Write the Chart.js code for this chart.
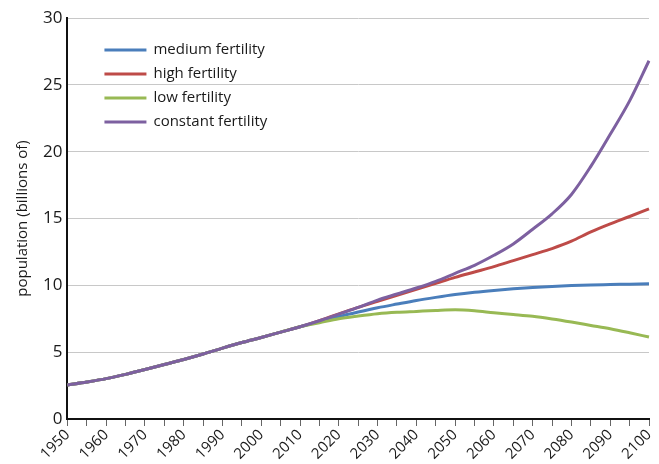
<!DOCTYPE html>
<html>
<head>
<meta charset="utf-8">
<script src="https://cdn.jsdelivr.net/npm/chart.js@4/dist/chart.umd.min.js"></script>
<style>
  html, body { margin: 0; padding: 0; background: #fff; }
  #box { width: 659px; height: 464px; position: relative; }
</style>
</head>
<body>
<div id="box"><canvas id="grafico"></canvas></div>
<script>
// anos (a cada 5 anos)
const anos = [1950, 1955, 1960, 1965, 1970, 1975, 1980, 1985, 1990, 1995, 2000, 2005, 2010,
  2015, 2020, 2025, 2030, 2035, 2040, 2045, 2050, 2055, 2060, 2065, 2070, 2075, 2080, 2085, 2090, 2095, 2100];

// historico comum 1950-2010
const historico = [2.55, 2.77, 3.02, 3.34, 3.7, 4.08, 4.45, 4.86, 5.3, 5.72, 6.1, 6.5, 6.9];

const media = historico.concat([7.28, 7.66, 8.0, 8.32, 8.6, 8.87, 9.1, 9.31, 9.48, 9.62, 9.74, 9.84, 9.92, 9.98, 10.03, 10.06, 10.09, 10.12]);
const alta = historico.concat([7.36, 7.87, 8.35, 8.8, 9.25, 9.7, 10.15, 10.6, 11.0, 11.4, 11.85, 12.3, 12.75, 13.3, 14.0, 14.6, 15.15, 15.72]);
const baixa = historico.concat([7.2, 7.5, 7.7, 7.87, 7.98, 8.05, 8.12, 8.17, 8.1, 7.95, 7.82, 7.68, 7.48, 7.25, 7.0, 6.75, 6.45, 6.13]);
const constante = historico.concat([7.35, 7.85, 8.35, 8.9, 9.35, 9.8, 10.3, 10.9, 11.5, 12.25, 13.1, 14.2, 15.35, 16.8, 18.9, 21.3, 23.8, 26.8]);

const nomes = ['medium fertility', 'high fertility', 'low fertility', 'constant fertility'];
const cores = ['#4a7ebb', '#be4b48', '#98b954', '#7d60a0'];
const ticksY = [0, 5, 10, 15, 20, 25, 30];

const fonte = '"Open Sans", "DejaVu Sans", sans-serif';

// legenda desenhada dentro da area do grafico
const legendaDentro = {
  id: 'legendaDentro',
  afterDraw(chart) {
    const ctx = chart.ctx;
    const area = chart.chartArea;
    ctx.save();
    chart.data.datasets.forEach(function (ds, i) {
      const y = area.top + 32 + i * 24;
      const x = area.left + 37;
      ctx.strokeStyle = ds.borderColor;
      ctx.lineWidth = 3;
      ctx.beginPath();
      ctx.moveTo(x, y);
      ctx.lineTo(x + 42, y);
      ctx.stroke();
      ctx.fillStyle = '#1a1a1a';
      ctx.font = '15px ' + fonte;
      ctx.textBaseline = 'middle';
      ctx.fillText(ds.label, x + 49, y);
    });
    ctx.restore();
  }
};

function serie(i, dados, ordem) {
  return {
    label: nomes[i],
    data: dados,
    borderColor: cores[i],
    backgroundColor: cores[i],
    borderWidth: 3,
    pointRadius: 0,
    cubicInterpolationMode: 'monotone',
    order: ordem
  };
}

const config = {
  type: 'line',
  data: {
    labels: anos,
    datasets: [
      serie(0, media, 2),
      serie(1, alta, 3),
      serie(2, baixa, 1),
      serie(3, constante, 0)
    ]
  },
  options: {
    responsive: true,
    maintainAspectRatio: false,
    animation: false,
    layout: { padding: { top: 18, right: 6, left: 10, bottom: 1 } },
    plugins: {
      legend: { display: false },
      tooltip: { enabled: false }
    },
    scales: {
      x: {
        offset: false,
        afterFit: function (escala) {
          escala.paddingRight = 10;
        },
        grid: { display: true, drawOnChartArea: false, drawTicks: true, tickLength: 7, color: '#666', lineWidth: 1 },
        border: { display: true, color: '#111', width: 2 },
        ticks: {
          autoSkip: false,
          minRotation: 45,
          maxRotation: 45,
          color: '#1a1a1a',
          font: { family: fonte, size: 15 },
          padding: 0,
          callback: function (v, idx) {
            const ano = anos[idx];
            return ano % 10 === 0 ? String(ano) : '';
          }
        }
      },
      y: {
        min: 0,
        max: 30,
        afterBuildTicks: function (axis) {
          axis.ticks = ticksY.map(function (v) { return { value: v }; });
        },
        grid: { color: '#c8c8c8', lineWidth: 1, drawTicks: false },
        border: { display: true, color: '#111', width: 2 },
        ticks: {
          color: '#1a1a1a',
          font: { family: fonte, size: 17 },
          padding: 5
        },
        title: {
          display: true,
          text: 'population (billions of)',
          color: '#1a1a1a',
          font: { family: fonte, size: 15 },
          padding: { bottom: 6 }
        }
      }
    }
  },
  plugins: [legendaDentro]
};

var graficoPop = new Chart(document.getElementById('grafico'), config);
</script>
</body>
</html>
